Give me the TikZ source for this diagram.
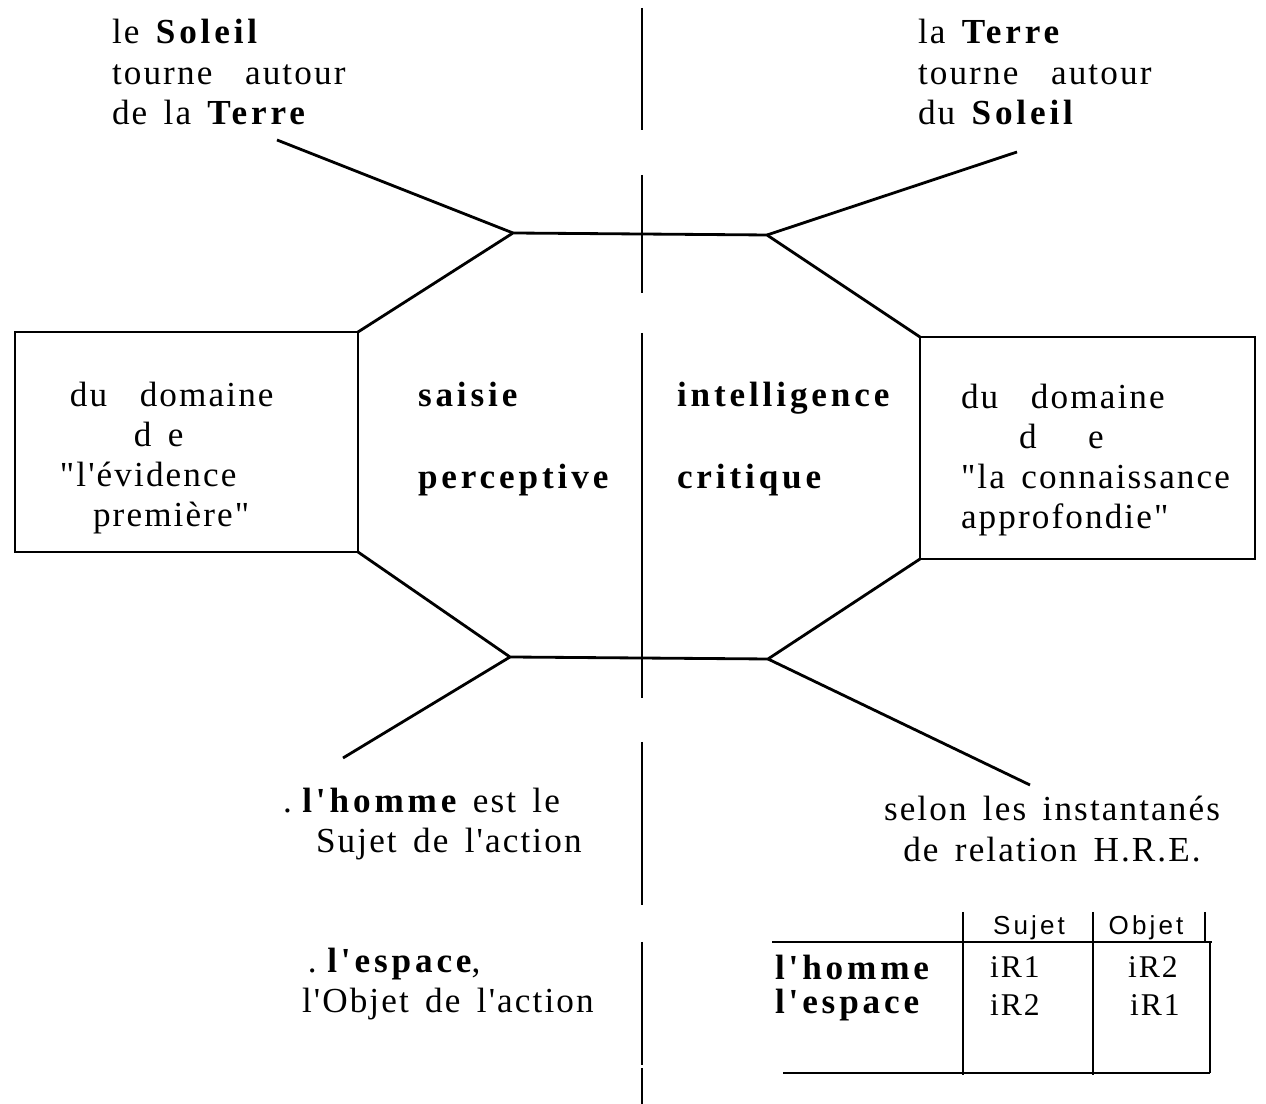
\documentclass[tikz,border=0pt]{standalone}
\usepackage{fontspec}
\newfontfamily\plainserif{Liberation Serif}[LetterSpace=6, WordSpace=1.5]
\newfontfamily\spacedbold{Liberation Serif}[LetterSpace=11, WordSpace=1.5]
\newfontfamily\tabsans{Liberation Sans}[LetterSpace=12]
\usetikzlibrary{
    calc,
    fit,
    positioning
}
\tikzset{
    every picture/.style = {
        thick,
        x = 0.01cm,
        y = -0.01cm
    },
    every node/.style = {
        inner sep = 0pt,
        outer sep = 0pt,
        font = \plainserif\fontsize{10}{11.4}\selectfont
    },
    textblock/.style = {
        align = left,
        anchor = west
    },
    framebox/.style = {
        draw,
        inner sep = 0pt,
        fit = {#1}
    },
    colhead/.style = {
        font = \tabsans\fontsize{7.4}{9}\selectfont
    },
    cellval/.style = {
        font = \plainserif\fontsize{9}{11}\selectfont
    }
}
\newcommand{\hb}[1]{{\spacedbold\bfseries #1}}

\begin{document}
\begin{tikzpicture}
    % \draw[step = 100, lightgray, very thin] (0, 0) grid (1266, 1104);
    \useasboundingbox (0, 0) rectangle (1266, 1104);

    \node[framebox = {(15, 332) (358, 552)}] (evid) {};
    \node[framebox = {(920, 337) (1255, 559)}] (conn) {};

    \coordinate (tl) at (513, 233);
    \coordinate (tr) at (767, 235);
    \coordinate (bl) at (510, 657);
    \coordinate (br) at (768, 659);

    \coordinate (geoend) at (277, 140);
    \coordinate (helioend) at (1017, 152);
    \coordinate (sujend) at (343, 758);
    \coordinate (hreend) at (1030, 785);

    \draw (evid.north east) -- (tl) -- (tr) -- (conn.north west);
    \draw (evid.south east) -- (bl) -- (br) -- (conn.south west);
    \draw (tl) -- (geoend);
    \draw (tr) -- (helioend);
    \draw (bl) -- (sujend);
    \draw (br) -- (hreend);

    \foreach \a/\b in {8/130, 175/293, 333/698, 742/905, 942/1065, 1068/1104}
        \draw (642, \a) -- (642, \b);

    \node[textblock] (geo) at (112, 72) {le \hb{Soleil}\\tourne\ \ autour\\de la \hb{Terre}};
    \node[textblock] (helio) at (918, 72) {la \hb{Terre}\\tourne\ \ autour\\du \hb{Soleil}};

    \node[textblock] (evidtxt) at (60, 458) {\hspace*{2.8pt}du\ \ domaine\\\hspace*{21pt}d e\\"l'évidence\\\hspace*{9.4pt}première"};
    \node[textblock] (saisie) at (418, 439) {\hb{saisie}\\[11.9pt]\hb{perceptive}};
    \node[textblock] (intel) at (677, 439) {\hb{intelligence}\\[11.9pt]\hb{critique}};
    \node[textblock] (conntxt) at (961, 460) {du\ \ domaine\\\hspace*{16.5pt}d\quad\ e\\"la connaissance\\approfondie"};

    \node[textblock] (sujtxt) at (283, 824) {.\hspace{3pt}\hb{l'homme} est le\\\hspace*{9.4pt}Sujet de l'action};
    \node[textblock] (objtxt) at (302, 984) {\hspace*{1.7pt}.\hspace{3pt}\hb{l'espace},\\l'Objet de l'action};
    \node[align = center] (hre) at (1052, 829) {selon les instantanés\\de relation H.R.E.};

    % tableau
    \draw (772, 942) -- (1212, 942);
    \draw (783, 1073) -- (1210, 1073);
    \draw (963, 912) -- (963, 1075);
    \draw (1093, 912) -- (1093, 1075);
    \draw (1205, 912) -- (1205, 942);
    \draw (1210, 942) -- (1210, 1073);

    \node[colhead] (sujet) at (1029, 928) {Sujet};
    \node[colhead] (objet) at (1146, 928) {Objet};
    \node[anchor = west] (homme) at (775, 967) {\hb{l'homme}};
    \node[anchor = west] (espace) at (775, 1005) {\hb{l'espace}};
    \node[cellval] (hs) at (1015, 967) {iR1};
    \node[cellval] (ho) at (1153, 967) {iR2};
    \node[cellval] (es) at (1015, 1005) {iR2};
    \node[cellval] (eo) at (1155, 1005) {iR1};
\end{tikzpicture}
\end{document}
